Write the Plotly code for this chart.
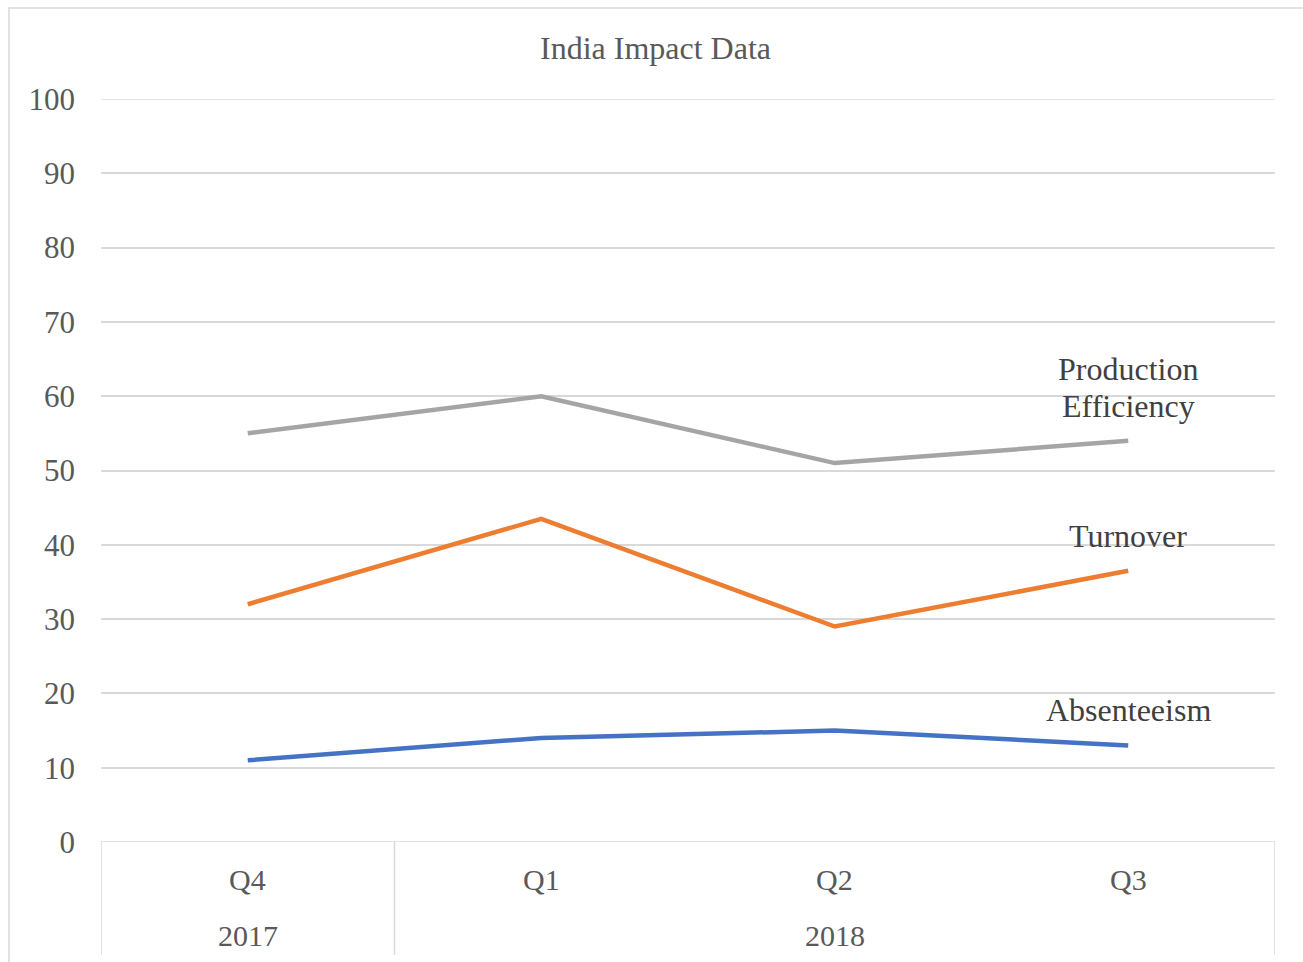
import plotly.graph_objects as go

quarters = ["Q4", "Q1", "Q2", "Q3"]
years = ["2017", "2018", "2018", "2018"]
production_efficiency = [55, 60, 51, 54]
turnover = [32, 43.5, 29, 36.5]
absenteeism = [11, 14, 15, 13]

series = [
    (["Absenteeism"], absenteeism, "#4472C4", 17.8),
    (["Turnover"], turnover, "#ED7D31", 41.2),
    (["Production", "Efficiency"], production_efficiency, "#A5A5A5", 61.2),
]

FONT = "Liberation Serif"
GRID = "#D9D9D9"
LINE_GAP = 37  # px between label lines
fig = go.Figure()
idx = list(range(len(quarters)))
for lines, vals, color, label_y in series:
    fig.add_trace(go.Scatter(x=idx, y=vals, mode="lines", name=" ".join(lines),
                             line=dict(color=color, width=4.5), showlegend=False))

annotations = []
for lines, vals, color, label_y in series:
    n = len(lines)
    for k, txt in enumerate(lines):
        shift = ((n - 1) / 2 - k) * LINE_GAP
        annotations.append(dict(x=idx[-1], y=label_y, xref="x", yref="y", text=txt, yshift=shift,
                                showarrow=False, font=dict(family=FONT, size=32, color="#404040"),
                                xanchor="center", yanchor="middle"))
for i, q in enumerate(quarters):
    annotations.append(dict(x=i, y=-0.0511, xref="x", yref="paper", text=q, showarrow=False,
                            font=dict(family=FONT, size=30, color="#595959"),
                            xanchor="center", yanchor="middle"))
# year groups
groups = []
for i, y in enumerate(years):
    if groups and groups[-1][0] == y:
        groups[-1][1].append(i)
    else:
        groups.append([y, [i]])
shapes = []
for y, members in groups:
    annotations.append(dict(x=sum(members) / len(members), y=-0.1265, xref="x", yref="paper",
                            text=y, showarrow=False, font=dict(family=FONT, size=30, color="#595959"),
                            xanchor="center", yanchor="middle"))
    shapes.append(dict(type="line", xref="x", yref="paper", x0=members[0] - 0.5, x1=members[0] - 0.5,
                       y0=0, y1=-0.152, line=dict(color=GRID, width=1.5)))
shapes.append(dict(type="line", xref="x", yref="paper", x0=len(quarters) - 0.5, x1=len(quarters) - 0.5,
                   y0=0, y1=-0.152, line=dict(color=GRID, width=1.5)))
# boundary gridlines (0 and 100)
for yv in (0, 100):
    shapes.append(dict(type="line", xref="paper", yref="y", x0=0, x1=1, y0=yv, y1=yv,
                       line=dict(color=GRID, width=1.5), layer="below"))
# outer chart border
shapes.append(dict(type="rect", xref="paper", yref="paper", x0=-0.0784, x1=1.1, y0=-0.5, y1=1.1225,
                   line=dict(color=GRID, width=1.5), layer="below"))

annotations.append(dict(x=0.4727, y=1.0686, xref="paper", yref="paper", text="India Impact Data",
                        showarrow=False, font=dict(family=FONT, size=32, color="#595959"),
                        xanchor="center", yanchor="middle"))

fig.update_layout(
    width=1303, height=962,
    margin=dict(l=101, r=28, t=99, b=120),
    paper_bgcolor="white", plot_bgcolor="white",
    xaxis=dict(range=[-0.5, len(quarters) - 0.5], showticklabels=False, showgrid=False,
               zeroline=False, showline=False, fixedrange=True),
    yaxis=dict(range=[0, 100], dtick=10, showgrid=True, gridcolor=GRID, gridwidth=1.5,
               zeroline=False, showline=False, ticks="", ticklabelstandoff=25,
               tickfont=dict(family=FONT, size=31, color="#595959")),
    annotations=annotations, shapes=shapes,
)
fig.write_html("out.html")
